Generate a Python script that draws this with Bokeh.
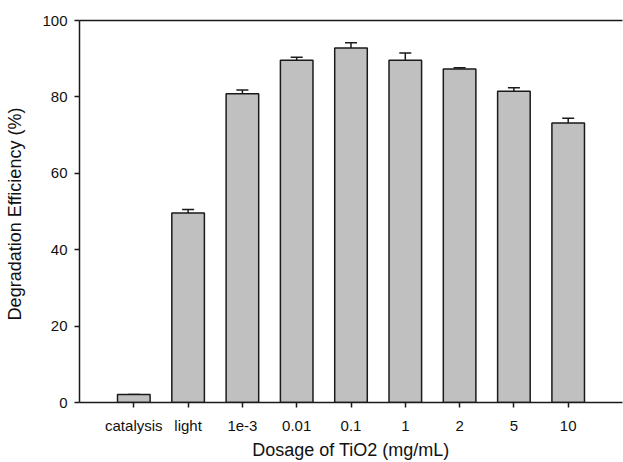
from bokeh.plotting import figure
from bokeh.models import Range1d, FixedTicker, LinearAxis, Whisker, ColumnDataSource, TeeHead
from bokeh.embed import file_html
from bokeh.resources import INLINE

categories = ["catalysis", "light", "1e-3", "0.01", "0.1", "1", "2", "5", "10"]
efficiency = [2.1, 49.6, 80.8, 89.6, 92.8, 89.6, 87.3, 81.5, 73.2]
errors = [0.0, 0.9, 1.0, 0.8, 1.4, 1.9, 0.3, 0.9, 1.2]
y_ticks = [0, 20, 40, 60, 80, 100]

xs = list(range(len(categories)))
src = ColumnDataSource(dict(
    x=xs, top=efficiency,
    upper=[v + e for v, e in zip(efficiency, errors)],
))

FONT = "Liberation Sans"

p = figure(width=623, height=462, output_backend="svg", toolbar_location=None,
           x_range=Range1d(-1, 9), y_range=Range1d(0, 100),
           min_border_left=79, min_border_right=1, min_border_top=20, min_border_bottom=60)
p.outline_line_color = None
p.xgrid.visible = False
p.ygrid.visible = False
p.background_fill_color = "white"
p.border_fill_color = "white"

p.vbar(x="x", top="top", width=0.6, bottom=0, source=src,
       fill_color="#c0c0c0", line_color="#1a1a1a", line_width=1.5)

w = Whisker(source=src, base="x", lower="top", upper="upper",
            line_color="#1a1a1a", line_width=1.5,
            upper_head=TeeHead(size=12, line_color="#1a1a1a", line_width=1.5),
            lower_head=None)
p.add_layout(w)

xa = p.xaxis[0]
xa.ticker = FixedTicker(ticks=xs)
xa.major_label_overrides = {i: c for i, c in zip(xs, categories)}
xa.axis_label = "Dosage of TiO2 (mg/mL)"

ya = p.yaxis[0]
ya.ticker = FixedTicker(ticks=y_ticks)
ya.axis_label = "Degradation Efficiency  (%)"

for ax in (xa, ya):
    ax.axis_line_color = "#1a1a1a"
    ax.axis_line_width = 1.5
    ax.major_tick_line_color = "#1a1a1a"
    ax.major_tick_line_width = 1.5
    ax.major_tick_out = 5
    ax.major_tick_in = 0
    ax.minor_tick_line_color = None
    ax.major_label_text_font = FONT
    ax.major_label_text_font_size = "15px"
    ax.major_label_text_color = "#111111"
    ax.axis_label_text_font = FONT
    ax.axis_label_text_font_size = "18px"
    ax.axis_label_text_font_style = "normal"
    ax.axis_label_text_color = "#111111"

xa.major_label_standoff = 9
xa.axis_label_standoff = 3
ya.major_label_standoff = 7
ya.axis_label_standoff = 14

top_axis = LinearAxis(ticker=FixedTicker(ticks=[]),
                      axis_line_color="#1a1a1a", axis_line_width=1.5,
                      major_tick_line_color=None, minor_tick_line_color=None,
                      major_label_standoff=0)
p.add_layout(top_axis, "above")

open("out.html", "w").write(file_html(p, INLINE))
